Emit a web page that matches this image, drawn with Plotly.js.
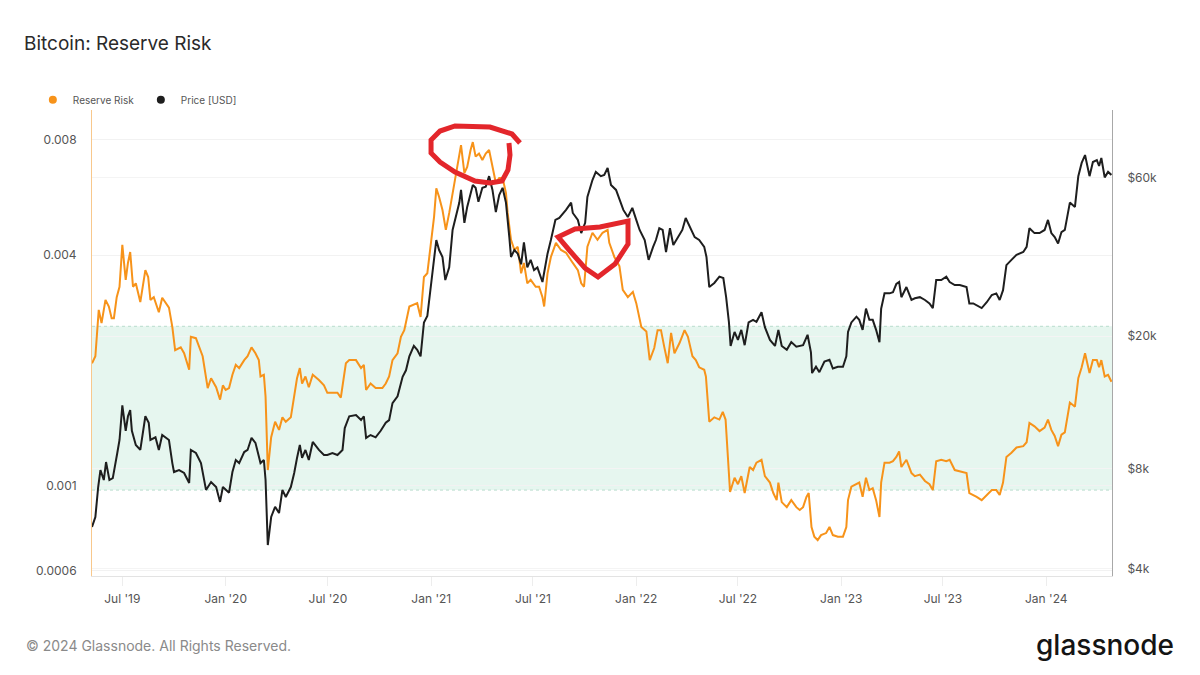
<!DOCTYPE html>
<html>
<head>
<meta charset="utf-8">
<script src="https://cdn.plot.ly/plotly-3.0.1.min.js"></script>
<style>
  html, body { margin: 0; padding: 0; background: #ffffff; }
  #chart { width: 1200px; height: 675px; }
</style>
</head>
<body>
<div id="chart"></div>
<script>
// ---- Data ----
const riskDates = [
'2019-05-08','2019-05-14','2019-05-20','2019-05-25','2019-06-01','2019-06-07','2019-06-12','2019-06-16','2019-06-21','2019-06-26',
'2019-07-01','2019-07-07','2019-07-11','2019-07-15','2019-07-20','2019-07-25','2019-08-02','2019-08-11','2019-08-16','2019-08-20',
'2019-08-26','2019-09-04','2019-09-10','2019-09-22','2019-09-28','2019-10-03','2019-10-13','2019-10-19','2019-10-28','2019-10-31',
'2019-11-09','2019-11-21','2019-11-30','2019-12-06','2019-12-15','2019-12-22','2019-12-27','2020-01-01','2020-01-07','2020-01-13',
'2020-01-19','2020-01-25','2020-02-03','2020-02-09','2020-02-16','2020-02-23','2020-02-29','2020-03-03','2020-03-09','2020-03-12',
'2020-03-16','2020-03-22','2020-03-29','2020-04-05','2020-04-11','2020-04-17','2020-04-26','2020-05-02','2020-05-07','2020-05-12',
'2020-05-16','2020-05-22','2020-05-28','2020-06-04','2020-06-15','2020-06-24','2020-06-30','2020-07-09','2020-07-18','2020-07-24',
'2020-07-30','2020-08-02','2020-08-08','2020-08-20','2020-08-29','2020-09-03','2020-09-07','2020-09-15','2020-09-24','2020-10-06',
'2020-10-12','2020-10-18','2020-10-24','2020-11-02','2020-11-08','2020-11-14','2020-11-23','2020-11-29','2020-12-07','2020-12-13',
'2020-12-19','2020-12-25','2020-12-31','2021-01-06','2021-01-10','2021-01-15','2021-01-21','2021-01-27','2021-02-02','2021-02-08',
'2021-02-14','2021-02-18','2021-02-23','2021-03-01','2021-03-06','2021-03-12','2021-03-16','2021-03-21','2021-03-27','2021-04-02',
'2021-04-08','2021-04-14','2021-04-20','2021-04-26','2021-05-02','2021-05-08','2021-05-14','2021-05-17','2021-05-23','2021-05-29',
'2021-06-04','2021-06-10','2021-06-15','2021-06-21','2021-06-27','2021-07-06','2021-07-12','2021-07-18','2021-07-21','2021-07-27',
'2021-08-02','2021-08-11','2021-08-20','2021-08-29','2021-09-10','2021-09-19','2021-09-25','2021-09-30','2021-10-06','2021-10-15',
'2021-10-24','2021-11-02','2021-11-11','2021-11-14','2021-11-23','2021-12-02','2021-12-08','2021-12-17','2021-12-26','2022-01-01',
'2022-01-10','2022-01-19','2022-01-25','2022-02-02','2022-02-08','2022-02-14','2022-02-20','2022-02-26','2022-03-04','2022-03-10',
'2022-03-19','2022-03-28','2022-04-03','2022-04-11','2022-04-17','2022-04-23','2022-05-02','2022-05-05','2022-05-11','2022-05-20',
'2022-05-29','2022-06-04','2022-06-09','2022-06-13','2022-06-17','2022-06-25','2022-07-01','2022-07-07','2022-07-13','2022-07-22',
'2022-07-28','2022-08-03','2022-08-12','2022-08-18','2022-08-27','2022-09-02','2022-09-08','2022-09-11','2022-09-17','2022-09-26',
'2022-10-04','2022-10-13','2022-10-19','2022-10-25','2022-10-31','2022-11-04','2022-11-09','2022-11-14','2022-11-20','2022-11-26',
'2022-12-05','2022-12-11','2022-12-17','2022-12-26','2023-01-04','2023-01-10','2023-01-13','2023-01-19','2023-01-28','2023-02-02',
'2023-02-08','2023-02-14','2023-02-20','2023-02-26','2023-03-04','2023-03-10','2023-03-13','2023-03-19','2023-03-28','2023-04-03',
'2023-04-09','2023-04-14','2023-04-18','2023-04-27','2023-05-06','2023-05-12','2023-05-21','2023-05-30','2023-06-07','2023-06-13',
'2023-06-19','2023-06-28','2023-07-07','2023-07-13','2023-07-22','2023-07-31','2023-08-12','2023-08-17','2023-08-24','2023-08-30',
'2023-09-08','2023-09-17','2023-09-26','2023-10-04','2023-10-10','2023-10-16','2023-10-22','2023-10-31','2023-11-09','2023-11-21',
'2023-11-27','2023-12-02','2023-12-11','2023-12-20','2023-12-29','2024-01-04','2024-01-10','2024-01-16','2024-01-22','2024-01-28',
'2024-02-03','2024-02-12','2024-02-21','2024-02-27','2024-03-04','2024-03-10','2024-03-18','2024-03-24','2024-03-31','2024-04-04',
'2024-04-08','2024-04-14','2024-04-20','2024-04-26'
];
const riskValues = [
0.00209,0.00218,0.00288,0.00266,0.00306,0.00294,0.00274,0.00274,0.00311,0.00331,
0.00426,0.00345,0.00382,0.00408,0.00331,0.00338,0.00302,0.00366,0.00351,0.00306,
0.00311,0.00284,0.00310,0.00292,0.00260,0.00226,0.00230,0.00222,0.00201,0.00245,
0.00243,0.00218,0.00180,0.00191,0.00181,0.00168,0.00183,0.00178,0.00180,0.00195,
0.00207,0.00203,0.00213,0.00218,0.00230,0.00222,0.00213,0.00193,0.00195,0.00171,
0.00110,0.00134,0.00147,0.00140,0.00151,0.00147,0.00151,0.00171,0.00191,0.00203,
0.00185,0.00193,0.00181,0.00195,0.00189,0.00183,0.00175,0.00175,0.00175,0.00170,
0.00197,0.00209,0.00213,0.00213,0.00203,0.00207,0.00178,0.00185,0.00180,0.00180,
0.00185,0.00193,0.00213,0.00222,0.00245,0.00255,0.00294,0.00297,0.00300,0.00276,
0.00351,0.00359,0.00421,0.00504,0.00598,0.00568,0.00525,0.00466,0.00516,0.00582,
0.00656,0.00697,0.00776,0.00656,0.00680,0.00753,0.00790,0.00724,0.00737,0.00709,
0.00737,0.00753,0.00680,0.00618,0.00637,0.00637,0.00582,0.00516,0.00439,0.00413,
0.00421,0.00359,0.00382,0.00338,0.00345,0.00331,0.00331,0.00311,0.00294,0.00359,
0.00396,0.00431,0.00413,0.00406,0.00382,0.00366,0.00338,0.00331,0.00421,0.00458,
0.00439,0.00458,0.00466,0.00431,0.00396,0.00375,0.00325,0.00311,0.00321,0.00300,
0.00260,0.00253,0.00213,0.00229,0.00255,0.00255,0.00230,0.00209,0.00251,0.00222,
0.00236,0.00255,0.00245,0.00218,0.00213,0.00204,0.00201,0.00193,0.00147,0.00151,
0.00149,0.00156,0.00149,0.00115,0.000964,0.00105,0.00101,0.00106,0.000958,0.00112,
0.00110,0.00115,0.00117,0.00106,0.00102,0.000958,0.000918,0.00102,0.000907,0.000880,
0.000918,0.000880,0.000865,0.000880,0.000936,0.000958,0.000781,0.000737,0.000722,0.000744,
0.000753,0.000781,0.000744,0.000737,0.000737,0.000781,0.000918,0.000995,0.00101,0.00102,
0.000936,0.00105,0.000975,0.000986,0.000918,0.000829,0.00102,0.00115,0.00115,0.00116,
0.00119,0.00123,0.00112,0.00117,0.00108,0.00106,0.00107,0.00103,0.00101,0.000975,
0.00116,0.00117,0.00116,0.00117,0.00110,0.00109,0.00108,0.000958,0.000947,0.000936,
0.000918,0.000947,0.000975,0.000975,0.000947,0.00102,0.00119,0.00122,0.00126,0.00127,
0.00130,0.00146,0.00143,0.00139,0.00142,0.00149,0.00140,0.00135,0.00127,0.00136,
0.00138,0.00165,0.00161,0.00191,0.00204,0.00222,0.00197,0.00213,0.00213,0.00204,
0.00213,0.00193,0.00195,0.00187
];

const priceDates = [
'2019-05-08','2019-05-14','2019-05-19','2019-05-23','2019-05-29','2019-06-02','2019-06-08','2019-06-14','2019-06-22','2019-06-26',
'2019-07-01','2019-07-07','2019-07-11','2019-07-15','2019-07-18','2019-07-25','2019-08-02','2019-08-11','2019-08-17','2019-08-20',
'2019-08-29','2019-09-04','2019-09-10','2019-09-22','2019-09-28','2019-10-01','2019-10-10','2019-10-19','2019-10-28','2019-10-31',
'2019-11-09','2019-11-18','2019-11-27','2019-12-06','2019-12-15','2019-12-22','2019-12-27','2020-01-01','2020-01-07','2020-01-13',
'2020-01-19','2020-01-25','2020-02-03','2020-02-09','2020-02-16','2020-02-23','2020-02-29','2020-03-03','2020-03-09','2020-03-12',
'2020-03-16','2020-03-22','2020-03-29','2020-04-05','2020-04-11','2020-04-17','2020-04-26','2020-05-02','2020-05-07','2020-05-12',
'2020-05-16','2020-05-22','2020-05-28','2020-06-04','2020-06-15','2020-06-24','2020-06-30','2020-07-09','2020-07-18','2020-07-27',
'2020-07-31','2020-08-08','2020-08-20','2020-08-29','2020-09-03','2020-09-07','2020-09-15','2020-09-24','2020-10-03','2020-10-12',
'2020-10-18','2020-10-24','2020-11-02','2020-11-11','2020-11-17','2020-11-23','2020-12-01','2020-12-07','2020-12-13','2020-12-19',
'2020-12-25','2020-12-31','2021-01-06','2021-01-10','2021-01-15','2021-01-21','2021-01-26','2021-02-02','2021-02-08','2021-02-14',
'2021-02-20','2021-02-23','2021-03-01','2021-03-06','2021-03-12','2021-03-16','2021-03-21','2021-03-26','2021-04-02','2021-04-08',
'2021-04-14','2021-04-20','2021-04-26','2021-05-02','2021-05-08','2021-05-14','2021-05-20','2021-05-23','2021-05-29','2021-06-04',
'2021-06-10','2021-06-15','2021-06-21','2021-06-27','2021-07-03','2021-07-09','2021-07-18','2021-07-27','2021-08-02','2021-08-10',
'2021-08-17','2021-08-29','2021-09-07','2021-09-10','2021-09-19','2021-09-25','2021-10-02','2021-10-06','2021-10-15','2021-10-21',
'2021-10-30','2021-11-05','2021-11-11','2021-11-17','2021-11-26','2021-12-03','2021-12-09','2021-12-17','2021-12-25','2022-01-01',
'2022-01-07','2022-01-16','2022-01-23','2022-01-31','2022-02-05','2022-02-11','2022-02-17','2022-02-23','2022-03-02','2022-03-08',
'2022-03-16','2022-03-24','2022-03-30','2022-04-06','2022-04-15','2022-04-23','2022-05-02','2022-05-06','2022-05-11','2022-05-20',
'2022-05-29','2022-06-05','2022-06-10','2022-06-15','2022-06-18','2022-06-25','2022-07-01','2022-07-07','2022-07-13','2022-07-20',
'2022-07-28','2022-08-03','2022-08-12','2022-08-18','2022-08-27','2022-09-05','2022-09-11','2022-09-17','2022-09-26','2022-10-04',
'2022-10-13','2022-10-25','2022-11-02','2022-11-08','2022-11-10','2022-11-17','2022-11-23','2022-12-02','2022-12-11','2022-12-17',
'2022-12-26','2023-01-04','2023-01-10','2023-01-13','2023-01-19','2023-01-28','2023-02-02','2023-02-08','2023-02-14','2023-02-20',
'2023-02-26','2023-03-04','2023-03-10','2023-03-13','2023-03-19','2023-03-28','2023-04-03','2023-04-09','2023-04-14','2023-04-18',
'2023-04-27','2023-05-06','2023-05-12','2023-05-21','2023-05-30','2023-06-07','2023-06-13','2023-06-19','2023-06-28','2023-07-07',
'2023-07-13','2023-07-22','2023-07-31','2023-08-12','2023-08-17','2023-08-24','2023-08-30','2023-09-08','2023-09-17','2023-09-26',
'2023-10-04','2023-10-10','2023-10-16','2023-10-22','2023-10-31','2023-11-09','2023-11-21','2023-11-27','2023-12-02','2023-12-11',
'2023-12-20','2023-12-29','2024-01-04','2024-01-10','2024-01-16','2024-01-22','2024-01-28','2024-02-03','2024-02-12','2024-02-21',
'2024-02-27','2024-03-04','2024-03-10','2024-03-18','2024-03-24','2024-03-31','2024-04-04','2024-04-08','2024-04-14','2024-04-20',
'2024-04-26'
];
const priceValues = [
5350,5730,7050,7930,7400,8380,7400,7500,8920,9760,
12400,10400,11500,12000,10400,9430,9110,11500,11000,9760,
9940,9110,10100,9760,8320,7820,7930,7770,7250,9110,
8920,8320,6910,7300,7050,6360,7050,6910,6780,7820,
8500,8320,8980,9110,9900,9570,8800,8320,8500,7400,
4720,5730,6150,5890,6910,6580,7050,7770,8620,9430,
8620,9110,8500,9630,9110,8800,8800,8920,8800,9110,
10600,11500,11600,11200,11500,9900,10100,9940,10400,11000,
11200,12600,13200,15100,15800,17400,18700,18200,17400,22000,
23000,28100,33100,38900,36300,34600,29500,32200,41700,45600,
50400,55000,43800,48900,53800,56900,55800,50700,55800,56200,
60500,55000,47200,53100,55800,50400,39700,34600,36300,35400,
32900,38300,32200,33900,31600,32200,29100,35400,38900,44700,
45300,47900,50400,46900,44700,40800,43800,52400,58900,62300,
60500,61000,64000,56900,55000,50700,47900,45600,48600,44700,
41700,38900,33900,37100,38900,42200,41700,35800,42200,37600,
39700,41700,45300,42600,39700,38900,37100,34600,28100,28900,
30200,29900,26200,22000,18700,20600,19500,20900,18800,22000,
22400,22100,23600,21300,19500,18700,20900,18700,18200,19200,
18600,18800,20200,17900,15500,16200,15600,16800,17000,16000,
16200,16200,17400,20600,22000,22900,22400,20900,24200,22400,
22400,20900,19200,24200,26900,26900,27100,28700,29100,26200,
28100,25700,26000,26200,25700,25100,24300,29500,29500,30200,
29100,28500,28500,28100,25100,25100,24800,24300,25300,26600,
26900,25700,27500,32700,33900,35100,35800,37100,42200,40800,
40800,41700,44700,40800,39700,38000,41100,41700,50400,48900,
60500,66300,70000,60500,66700,67600,64900,68600,60000,62300,
61000
];

// axis ticks
const xTickVals = ['2019-07-01','2020-01-01','2020-07-01','2021-01-01','2021-07-01','2022-01-01','2022-07-01','2023-01-01','2023-07-01','2024-01-01'];
const xTickText = ["Jul '19","Jan '20","Jul '20","Jan '21","Jul '21","Jan '22","Jul '22","Jan '23","Jul '23","Jan '24"];
const riskTickVals = [0.0006, 0.001, 0.004, 0.008];
const riskTickText = ['0.0006', '0.001', '0.004', '0.008'];
const priceTickVals = [4000, 8000, 20000, 60000];
const priceTickText = ['$4k', '$8k', '$20k', '$60k'];
// green reserve-risk zone
const zoneLow = 0.000975;
const zoneHigh = 0.00261;

const ORANGE = '#f7931a';
const DARK = '#1e1e1e';
const FONT = 'Inter, "Noto Sans", sans-serif';

const traces = [
  { x: riskDates, y: riskValues, type: 'scatter', mode: 'lines', name: 'Reserve Risk',
    line: { color: ORANGE, width: 2 }, yaxis: 'y', showlegend: false, hoverinfo: 'skip' },
  { x: priceDates, y: priceValues, type: 'scatter', mode: 'lines', name: 'Price [USD]',
    line: { color: DARK, width: 2 }, yaxis: 'y2', showlegend: false, hoverinfo: 'skip' },
  { x: [null], y: [null], type: 'scatter', mode: 'markers', name: 'Reserve Risk',
    marker: { color: ORANGE, size: 8, symbol: 'circle' }, yaxis: 'y', showlegend: true },
  { x: [null], y: [null], type: 'scatter', mode: 'markers', name: 'Price [USD]',
    marker: { color: DARK, size: 8, symbol: 'circle' }, yaxis: 'y2', showlegend: true }
];

function px(p) { return (p - 92) / 1020; }
function py(p) { return (576 - p) / 466; }
function pathFrom(points, close) {
  return points.map((pt, i) => (i === 0 ? 'M ' : 'L ') + px(pt[0]).toFixed(4) + ',' + py(pt[1]).toFixed(4)).join(' ') + (close ? ' Z' : '');
}
// hand-drawn red marks in the reference (pixel sketch positions)
const circleMark = [[520,143],[512,134],[490,127],[455,126],[440,131],[431,140],[431,153],[440,162],[455,172],[475,181],[490,183],[502,181],[508,170],[510,155],[509,143]];
const triangleMark = [[558,237],[575,229],[600,227],[628,221],[628,244],[615,264],[598,277],[585,268],[570,251],[558,237]];

const layout = {
  width: 1200, height: 675,
  paper_bgcolor: '#ffffff', plot_bgcolor: '#ffffff',
  margin: { l: 92, r: 88, t: 110, b: 99 },
  font: { family: FONT, size: 12, color: '#555' },
  title: { text: 'Bitcoin: Reserve Risk', x: 24/1200, xanchor: 'left', xref: 'container',
           y: 1 - 43/675, yanchor: 'middle', yref: 'container',
           font: { family: FONT, size: 19, color: '#2a2a2a' } },
  showlegend: true,
  legend: { orientation: 'h', x: -0.058, xanchor: 'left', y: 1.022, yanchor: 'middle',
            font: { family: FONT, size: 10, color: '#555' }, bgcolor: 'rgba(0,0,0,0)',
            entrywidth: 63, entrywidthmode: 'pixels', itemwidth: 30 },
  xaxis: { type: 'date', range: ['2019-05-08', '2024-04-27'],
           tickvals: xTickVals, ticktext: xTickText,
           showgrid: false, zeroline: false,
           showline: true, linecolor: '#e3e3e3', linewidth: 1,
           ticks: 'outside', ticklen: 9, tickcolor: '#ededed', ticklabelstandoff: 3,
           tickfont: { family: FONT, size: 12, color: '#555' } },
  yaxis: { type: 'log', range: [-3.2353, -2.0186],
           tickvals: riskTickVals, ticktext: riskTickText,
           showgrid: true, gridcolor: '#f2f2f2', zeroline: false,
           showline: true, linecolor: '#f8c88c', linewidth: 1,
           ticks: '', ticklabelstandoff: 12,
           tickfont: { family: FONT, size: 12, color: '#555' } },
  yaxis2: { type: 'log', range: [3.5810, 4.9804], overlaying: 'y', side: 'right',
            tickvals: priceTickVals, ticktext: priceTickText,
            showgrid: true, gridcolor: '#f4f4f4', zeroline: false,
            showline: true, linecolor: '#a8a8a8', linewidth: 1,
            ticks: '', ticklabelstandoff: 12,
            tickfont: { family: FONT, size: 12, color: '#555' } },
  shapes: [
    { type: 'rect', xref: 'paper', yref: 'y', x0: 0, x1: 1, y0: zoneLow, y1: zoneHigh,
      fillcolor: '#e6f6ef', line: { width: 0 }, layer: 'below' },
    { type: 'line', xref: 'paper', yref: 'y', x0: 0, x1: 1, y0: zoneHigh, y1: zoneHigh,
      line: { color: '#b9dccd', width: 1, dash: 'dot' }, layer: 'below' },
    { type: 'line', xref: 'paper', yref: 'y', x0: 0, x1: 1, y0: zoneLow, y1: zoneLow,
      line: { color: '#b9dccd', width: 1, dash: 'dot' }, layer: 'below' },
    { type: 'path', xref: 'paper', yref: 'paper', path: pathFrom(circleMark, false),
      line: { color: '#e3262b', width: 5 }, layer: 'above' },
    { type: 'path', xref: 'paper', yref: 'paper', path: pathFrom(triangleMark, true),
      line: { color: '#e3262b', width: 5 }, layer: 'above' }
  ],
  annotations: [
    { xref: 'paper', yref: 'paper', x: px(24), y: py(645), xanchor: 'left', yanchor: 'middle',
      text: '© 2024 Glassnode. All Rights Reserved.', showarrow: false,
      font: { family: FONT, size: 14, color: '#8a8a8a' } },
    { xref: 'paper', yref: 'paper', x: px(1176), y: py(645), xanchor: 'right', yanchor: 'middle',
      text: 'glassnode', showarrow: false,
      font: { family: FONT, size: 28, color: '#141414', weight: 500 } }
  ]
};

Plotly.newPlot('chart', traces, layout, { staticPlot: true, displayModeBar: false });
</script>
</body>
</html>
